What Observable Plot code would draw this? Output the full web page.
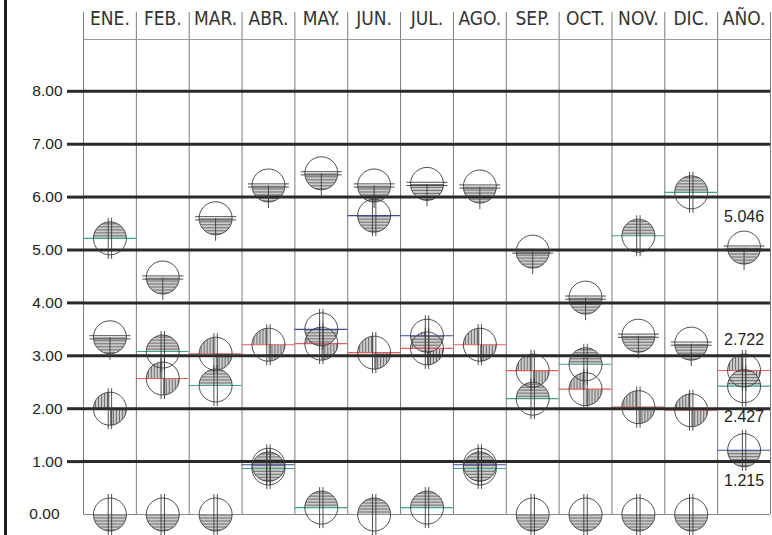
<!DOCTYPE html>
<html><head><meta charset="utf-8">
<script src="https://cdn.jsdelivr.net/npm/d3@7"></script>
<script src="https://cdn.jsdelivr.net/npm/@observablehq/plot@0.6"></script>
<style>
body{margin:0;background:#fff;}
#wrap{position:relative;width:772px;height:535px;overflow:hidden;}
#bar{position:absolute;left:4px;top:0;width:3px;height:535px;background:#1e1e1e;}
</style></head><body>
<svg width="0" height="0" style="position:absolute">
<defs>
<pattern id="hh" patternUnits="userSpaceOnUse" width="6" height="3"><rect width="6" height="3" fill="#cdcdcd"/><line x1="0" x2="6" y1="0.5" y2="0.5" stroke="#6a6a6a" stroke-width="1"/></pattern>
<pattern id="vv" patternUnits="userSpaceOnUse" width="3" height="6"><rect width="3" height="6" fill="#cdcdcd"/><line y1="0" y2="6" x1="0.5" x2="0.5" stroke="#6a6a6a" stroke-width="1"/></pattern>
</defs></svg>
<div id="wrap"><div id="bar"></div></div>
<script>
// ---- data ----
const months = ["ENE.","FEB.","MAR.","ABR.","MAY.","JUN.","JUL.","AGO.","SEP.","OCT.","NOV.","DIC.","AÑO."];
const gridTicks = [1, 2, 3, 4, 5, 6, 7, 8];
const zeroTick = [0];
// series values, 12 months + annual value
const seriesH = [3.35, 4.48, 5.60, 6.22, 6.45, 6.22, 6.25, 6.20, 4.97, 4.10, 3.38, 3.23, 5.046];
const seriesV = [2.00, 2.57, 3.04, 3.21, 3.23, 3.06, 3.14, 3.21, 2.72, 2.37, 2.03, 1.97, 2.722];
const seriesG = [5.22, 3.08, 2.44, 0.87, 0.13, 0.00, 0.13, 0.87, 2.19, 2.84, 5.27, 6.09, 2.427];
const seriesB = [0.00, 0.00, 0.00, 0.94, 3.50, 5.65, 3.38, 0.94, 0.00, 0.00, 0.00, 0.00, 1.215];
const headerLevel = 8.98;
const labelLevel = 9.37;
const yTop = 9.49;

// ---- symbols ----
const rOf = s => Math.sqrt(s / Math.PI);
const halfBottom = {draw(c, s){ const r = rOf(s); c.moveTo(r, 0); c.arc(0, 0, r, 0, Math.PI); c.closePath(); }};
const halfTop = {draw(c, s){ const r = rOf(s); c.moveTo(-r, 0); c.arc(0, 0, r, Math.PI, 2 * Math.PI); c.closePath(); }};
const quadrants = {draw(c, s){ const r = rOf(s);
  c.moveTo(0, 0); c.lineTo(-r, 0); c.arc(0, 0, r, Math.PI, 1.5 * Math.PI); c.closePath();
  c.moveTo(0, 0); c.lineTo(r, 0); c.arc(0, 0, r, 0, 0.5 * Math.PI); c.closePath(); }};
const crossH = {draw(c, s){ const r = rOf(s), e = r + 4, g = 1.6;
  c.moveTo(-e, -g); c.lineTo(e, -g); c.moveTo(-e, g); c.lineTo(e, g);
  c.moveTo(0, 0); c.lineTo(0, r + 6); }};
const crossV = {draw(c, s){ const r = rOf(s), e = r + 4, g = 1.7;
  c.moveTo(-g, -e); c.lineTo(-g, e); c.moveTo(g, -e); c.lineTo(g, e); }};

const series = [
  {values: seriesH, fillSym: halfBottom, pattern: "url(#hh)", cross: crossH, line: null},
  {values: seriesV, fillSym: quadrants, pattern: "url(#vv)", cross: crossV, line: "#e0605a"},
  {values: seriesG, fillSym: halfTop, pattern: "url(#hh)", cross: crossV, line: "#3fa582"},
  {values: seriesB, fillSym: halfBottom, pattern: "url(#hh)", cross: crossV, line: "#3c4b9b"}
].map(s => ({...s, rows: s.values.map((v, i) => ({i, v}))}));

const R = 16.5;
const cx = d => d.i + 0.5;
const ink = "#3a3a3a";
const fmt3 = d3.format(".3f");
const nCols = months.length;
const boundaries = d3.range(nCols + 1);

const yearRows = series.map(s => ({i: nCols - 1, v: s.values[nCols - 1]}));

const marks = [
  Plot.ruleX(boundaries, {x: d => d, stroke: "#7a7a7a", strokeWidth: 1}),
  Plot.ruleY([headerLevel], {stroke: "#9a9a9a", strokeWidth: 1}),
  Plot.ruleY(zeroTick, {stroke: "#8a8a8a", strokeWidth: 1}),
  Plot.text(months, {x: (d, i) => i + 0.5, y: labelLevel, text: d => d, fontSize: 19,
    fontFamily: "'DejaVu Sans Condensed', 'Liberation Sans Narrow', sans-serif", fill: "#333"}),
];
for (const s of series) {
  marks.push(Plot.dot(s.rows, {x: cx, y: "v", r: R, symbol: s.fillSym, fill: s.pattern, stroke: "none"}));
}
for (const s of series) {
  if (s.line) marks.push(Plot.ruleY(s.rows.filter(d => d.v > 0), {y: "v", x1: "i", x2: d => d.i + 1, stroke: s.line, strokeWidth: 1.1}));
}
marks.push(
  Plot.ruleY(gridTicks, {stroke: "#2a2a2a", strokeWidth: 3}),
  Plot.axisY(gridTicks, {tickSize: 16, tickPadding: 5, stroke: "#2a2a2a", strokeWidth: 3, tickFormat: d3.format(".2f"), fontSize: 15.5, fill: "#222", label: null}),
  Plot.axisY(zeroTick, {tickSize: 0, tickPadding: 24, tickFormat: d3.format(".2f"), fontSize: 15.5, fill: "#222", label: null})
);
for (const s of series) {
  marks.push(Plot.dot(s.rows, {x: cx, y: "v", r: R, stroke: ink, strokeWidth: 0.9, fill: "none"}));
  marks.push(Plot.dot(s.rows, {x: cx, y: "v", r: R, symbol: s.cross, stroke: ink, strokeWidth: 0.9, fill: "none"}));
}
marks.push(
  Plot.text(yearRows.slice(0, 2), {x: cx, y: "v", text: d => fmt3(d.v), dy: -31, fontSize: 16, fill: "#222"}),
  Plot.text(yearRows.slice(2), {x: cx, y: "v", text: d => fmt3(d.v), dy: 31, fontSize: 16, fill: "#222"})
);

const chart = Plot.plot({
  width: 772, height: 535,
  marginLeft: 83, marginRight: 2, marginTop: 12, marginBottom: 21,
  x: {domain: [0, nCols], axis: null},
  y: {domain: [0, yTop], label: null},
  style: {fontFamily: "'Liberation Sans', Arial, sans-serif", background: "transparent", overflow: "visible"},
  marks
});
document.getElementById("wrap").appendChild(chart);
</script>
</body></html>
